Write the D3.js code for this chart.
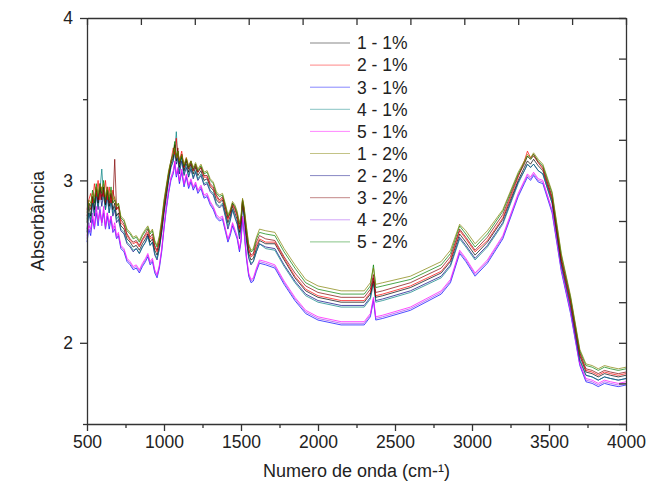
<!DOCTYPE html>
<html>
<head>
<meta charset="utf-8">
<script src="https://cdn.jsdelivr.net/npm/d3@7"></script>
<style>
  body { margin: 0; background: #fff; }
  svg { display: block; font-family: "Liberation Sans", Arial, sans-serif; }
</style>
</head>
<body>
<svg id="chart" width="670" height="488"></svg>
<script>
// wavenumber grid (cm-1) shared by every spectrum, denser where the spectra are noisy
const wavenumbers = [500,512,524,536,548,560,572,584,596,608,620,632,644,656,668,680,692,704,720,740,
  760,780,800,820,840,860,880,895,910,925,940,955,970,985,1000,1015,1030,1045,1060,1070,
  1080,1090,1100,1115,1130,1145,1160,1175,1190,1205,1220,1240,1260,1280,1300,1320,1340,1360,1380,1400,
  1415,1430,1445,1460,1475,1490,1500,1510,1520,1535,1550,1565,1580,1600,1620,
  1660,1720,1780,1850,1920,2000,2150,2300,2340,2360,2375,2420,2600,2800,2860,2920,2960,3020,3100,3200,
  3300,3340,3360,3380,3400,3430,3460,3520,3580,3640,3700,3740,3780,3820,3860,3900,3950,4000];

// absorbance, one array per sample
const s1_1 = [2.74,2.84,2.78,2.90,2.82,2.95,2.86,2.98,2.88,2.96,2.85,2.94,2.84,2.92,2.82,2.86,2.78,2.80,2.72,2.70,
  2.64,2.62,2.59,2.60,2.57,2.61,2.64,2.67,2.62,2.64,2.57,2.54,2.60,2.70,2.82,2.92,3.02,3.10,3.14,3.22,
  3.12,3.18,3.08,3.16,3.06,3.12,3.05,3.10,3.04,3.08,3.03,3.06,3.00,3.01,2.96,2.94,2.88,2.86,2.88,2.80,
  2.74,2.78,2.84,2.80,2.76,2.68,2.74,2.87,2.80,2.66,2.55,2.51,2.52,2.58,2.63,
  2.61,2.61,2.51,2.40,2.32,2.28,2.25,2.25,2.30,2.38,2.28,2.29,2.34,2.43,2.50,2.67,2.62,2.54,2.62,2.76,
  3.00,3.08,3.12,3.10,3.13,3.09,3.06,2.88,2.50,2.25,1.92,1.82,1.81,1.79,1.81,1.80,1.79,1.80];
const s2_1 = [2.82,2.88,2.92,2.86,2.98,2.90,3.00,2.88,2.96,2.90,3.00,2.88,2.96,2.86,2.94,2.88,2.82,2.84,2.74,2.72,
  2.66,2.63,2.61,2.62,2.59,2.63,2.66,2.68,2.64,2.65,2.59,2.56,2.62,2.72,2.84,2.94,3.04,3.12,3.20,3.16,
  3.26,3.14,3.12,3.18,3.08,3.14,3.08,3.12,3.06,3.10,3.05,3.08,3.02,3.02,2.97,2.95,2.90,2.87,2.89,2.82,
  2.76,2.80,2.85,2.82,2.78,2.70,2.75,2.88,2.81,2.68,2.57,2.53,2.54,2.60,2.64,
  2.62,2.62,2.52,2.41,2.33,2.29,2.26,2.26,2.31,2.40,2.29,2.30,2.35,2.44,2.51,2.69,2.64,2.56,2.63,2.77,
  3.02,3.12,3.18,3.14,3.16,3.11,3.07,2.89,2.51,2.25,1.93,1.83,1.82,1.80,1.82,1.81,1.80,1.81];
const s3_1 = [2.62,2.70,2.66,2.76,2.70,2.80,2.72,2.82,2.74,2.80,2.70,2.78,2.70,2.76,2.68,2.70,2.64,2.66,2.58,2.56,
  2.50,2.48,2.45,2.46,2.43,2.47,2.50,2.53,2.48,2.50,2.43,2.40,2.46,2.56,2.70,2.82,2.92,3.00,3.04,3.10,
  3.02,3.06,2.98,3.05,2.96,3.02,2.95,2.99,2.94,2.97,2.92,2.95,2.89,2.90,2.85,2.82,2.77,2.75,2.76,2.68,
  2.62,2.66,2.72,2.68,2.64,2.56,2.62,2.76,2.68,2.52,2.41,2.37,2.38,2.44,2.49,
  2.48,2.46,2.36,2.26,2.18,2.14,2.11,2.11,2.16,2.26,2.14,2.15,2.20,2.30,2.37,2.55,2.50,2.41,2.49,2.64,
  2.90,2.98,3.02,3.00,3.03,2.99,2.98,2.80,2.44,2.18,1.86,1.76,1.75,1.73,1.75,1.74,1.73,1.74];
const s4_1 = [2.70,2.80,2.76,2.88,2.80,2.92,2.84,2.94,3.07,2.90,2.82,2.92,2.80,2.88,2.80,2.84,2.76,2.78,2.70,2.68,
  2.62,2.60,2.57,2.58,2.55,2.59,2.62,2.65,2.60,2.62,2.55,2.52,2.58,2.68,2.80,2.90,3.00,3.08,3.12,3.18,
  3.30,3.12,3.06,3.14,3.04,3.10,3.03,3.08,3.02,3.06,3.01,3.04,2.98,2.99,2.94,2.92,2.86,2.84,2.86,2.78,
  2.72,2.76,2.82,2.78,2.74,2.66,2.72,2.85,2.78,2.64,2.53,2.49,2.50,2.56,2.61,
  2.58,2.57,2.47,2.37,2.29,2.25,2.22,2.22,2.27,2.36,2.25,2.26,2.31,2.40,2.47,2.64,2.59,2.51,2.59,2.73,
  2.98,3.06,3.10,3.08,3.10,3.06,3.04,2.86,2.48,2.23,1.90,1.80,1.79,1.77,1.79,1.78,1.77,1.78];
const s5_1 = [2.66,2.72,2.70,2.78,2.72,2.84,2.76,2.80,2.74,2.84,2.72,2.80,2.74,2.78,2.70,2.74,2.66,2.68,2.60,2.58,
  2.52,2.50,2.47,2.48,2.45,2.49,2.52,2.55,2.50,2.52,2.45,2.42,2.48,2.58,2.72,2.84,2.94,3.02,3.06,3.12,
  3.04,3.08,3.00,3.07,2.98,3.04,2.97,3.01,2.96,2.99,2.94,2.97,2.91,2.92,2.87,2.84,2.79,2.77,2.78,2.70,
  2.64,2.68,2.74,2.70,2.66,2.58,2.64,2.78,2.70,2.54,2.43,2.39,2.40,2.46,2.51,
  2.50,2.48,2.38,2.28,2.20,2.16,2.13,2.13,2.18,2.28,2.16,2.17,2.22,2.32,2.39,2.57,2.52,2.43,2.51,2.66,
  2.92,3.00,3.04,3.02,3.05,3.01,3.00,2.82,2.46,2.20,1.87,1.78,1.77,1.75,1.77,1.76,1.75,1.76];
const s1_2 = [2.80,2.88,2.86,2.92,2.90,2.96,2.92,2.98,2.94,2.98,2.90,2.96,2.90,2.94,2.88,2.90,2.84,2.86,2.78,2.76,
  2.70,2.68,2.65,2.66,2.63,2.67,2.70,2.72,2.68,2.70,2.63,2.60,2.66,2.76,2.88,2.97,3.06,3.12,3.16,3.20,
  3.14,3.18,3.12,3.16,3.10,3.14,3.09,3.12,3.08,3.11,3.07,3.10,3.05,3.06,3.01,2.99,2.93,2.91,2.92,2.85,
  2.79,2.82,2.87,2.85,2.81,2.74,2.78,2.89,2.84,2.72,2.61,2.57,2.58,2.65,2.70,
  2.69,2.68,2.58,2.48,2.39,2.35,2.32,2.32,2.37,2.46,2.36,2.37,2.41,2.50,2.57,2.73,2.69,2.61,2.69,2.82,
  3.05,3.12,3.16,3.14,3.17,3.13,3.10,2.93,2.55,2.29,1.96,1.87,1.86,1.84,1.86,1.85,1.84,1.85];
const s2_2 = [2.68,2.80,2.74,2.86,2.78,2.92,2.82,2.94,2.84,2.92,2.82,2.90,2.80,2.88,2.78,2.82,2.74,2.76,2.69,2.67,
  2.61,2.59,2.56,2.58,2.55,2.59,2.62,2.66,2.60,2.62,2.54,2.51,2.58,2.68,2.80,2.90,3.00,3.08,3.12,3.18,
  3.10,3.14,3.04,3.12,3.03,3.08,3.02,3.07,3.01,3.05,3.00,3.03,2.97,2.98,2.93,2.91,2.85,2.83,2.85,2.77,
  2.70,2.75,2.82,2.77,2.73,2.64,2.71,2.86,2.77,2.63,2.52,2.48,2.50,2.56,2.61,
  2.59,2.58,2.48,2.38,2.30,2.26,2.23,2.23,2.28,2.40,2.26,2.27,2.32,2.41,2.48,2.65,2.60,2.52,2.60,2.74,
  2.99,3.06,3.10,3.08,3.10,3.06,3.04,2.86,2.48,2.22,1.89,1.80,1.79,1.77,1.79,1.78,1.77,1.78];
const s3_2 = [2.78,2.86,2.82,2.90,2.86,2.96,2.88,2.96,2.90,2.94,2.86,2.96,2.86,2.92,2.86,3.13,2.82,2.84,2.76,2.73,
  2.67,2.64,2.62,2.63,2.60,2.64,2.67,2.70,2.65,2.67,2.60,2.57,2.63,2.73,2.85,2.95,3.04,3.11,3.16,3.22,
  3.14,3.20,3.10,3.16,3.08,3.13,3.07,3.11,3.06,3.09,3.05,3.08,3.03,3.03,2.98,2.96,2.91,2.88,2.90,2.83,
  2.77,2.80,2.86,2.83,2.79,2.71,2.76,2.88,2.82,2.69,2.58,2.54,2.55,2.62,2.66,
  2.64,2.63,2.53,2.43,2.35,2.31,2.28,2.28,2.33,2.42,2.31,2.32,2.37,2.46,2.53,2.70,2.65,2.57,2.65,2.79,
  3.03,3.10,3.15,3.13,3.15,3.11,3.08,2.90,2.52,2.27,1.94,1.84,1.83,1.81,1.83,1.82,1.81,1.82];
const s4_2 = [2.64,2.74,2.68,2.80,2.70,2.82,2.74,2.84,2.72,2.82,2.70,2.80,2.72,2.78,2.68,2.72,2.64,2.67,2.59,2.57,
  2.51,2.49,2.46,2.47,2.44,2.48,2.51,2.54,2.49,2.51,2.44,2.41,2.47,2.57,2.71,2.83,2.93,3.01,3.05,3.11,
  3.03,3.07,2.99,3.06,2.97,3.03,2.96,3.00,2.95,2.98,2.93,2.96,2.90,2.91,2.86,2.83,2.78,2.76,2.77,2.69,
  2.63,2.67,2.73,2.69,2.65,2.57,2.63,2.77,2.69,2.53,2.42,2.38,2.39,2.45,2.50,
  2.49,2.47,2.37,2.27,2.19,2.15,2.12,2.12,2.17,2.27,2.15,2.16,2.21,2.31,2.38,2.56,2.51,2.42,2.50,2.65,
  2.91,2.99,3.03,3.01,3.04,3.00,2.99,2.81,2.45,2.19,1.87,1.77,1.76,1.74,1.76,1.75,1.74,1.75];
const s5_2 = [2.76,2.86,2.84,2.94,2.86,2.98,2.90,2.96,2.92,3.00,2.88,2.94,2.88,2.96,2.86,2.88,2.84,2.86,2.77,2.75,
  2.69,2.67,2.64,2.65,2.62,2.66,2.69,2.71,2.67,2.69,2.62,2.59,2.65,2.75,2.87,2.96,3.05,3.12,3.17,3.24,
  3.14,3.18,3.11,3.15,3.09,3.13,3.08,3.12,3.07,3.10,3.06,3.09,3.04,3.05,3.00,2.98,2.92,2.90,2.91,2.84,
  2.78,2.81,2.86,2.84,2.80,2.73,2.77,2.88,2.83,2.71,2.60,2.56,2.57,2.64,2.68,
  2.67,2.66,2.56,2.46,2.37,2.33,2.30,2.30,2.35,2.48,2.34,2.35,2.39,2.48,2.55,2.72,2.67,2.59,2.67,2.81,
  3.04,3.11,3.15,3.13,3.16,3.12,3.09,2.92,2.54,2.28,1.95,1.86,1.85,1.83,1.85,1.84,1.83,1.84];

const seriesNames = ["1 - 1%","2 - 1%","3 - 1%","4 - 1%","5 - 1%","1 - 2%","2 - 2%","3 - 2%","4 - 2%","5 - 2%"];
const seriesValues = [s1_1, s2_1, s3_1, s4_1, s5_1, s1_2, s2_2, s3_2, s4_2, s5_2];
const seriesColors = ["#000000","#ff0000","#0000ff","#008080","#ff00ff","#808000","#000080","#800000","#a040f0","#008000"];

const xTicks = [500,1000,1500,2000,2500,3000,3500,4000];
const yTicks = [2,3,4];

seriesValues.forEach((v, i) => {
  if (v.length !== wavenumbers.length) throw new Error(seriesNames[i] + " has " + v.length + " values");
});

const svg = d3.select("#chart");
const plotLeft = 87, plotRight = 626, plotTop = 18, plotBottom = 424;

const x = d3.scaleLinear().domain([500, 4000]).range([plotLeft, plotRight]);
const y = d3.scaleLinear().domain([1.5, 4]).range([plotBottom, plotTop]);

const axisColor = "#333";
const fontSize = 17.5;

// spectra
const line = d3.line()
  .x((d, i) => x(wavenumbers[i]))
  .y(d => y(d));

// low ones first so the upper band sits on top
const drawOrder = [2, 8, 4, 6, 3, 0, 1, 7, 9, 5];
drawOrder.forEach(k => {
  svg.append("path")
    .attr("d", line(seriesValues[k]))
    .attr("fill", "none")
    .attr("stroke", seriesColors[k])
    .attr("stroke-width", 0.7)
    .attr("stroke-linejoin", "round");
});

// bottom axis: outward ticks, minor every 250
svg.append("g")
  .attr("transform", `translate(0,${plotBottom})`)
  .call(d3.axisBottom(x).tickValues(d3.range(750, 4000, 500)).tickSize(4).tickFormat(""))
  .call(g => g.select(".domain").remove());
svg.append("g")
  .attr("transform", `translate(0,${plotBottom})`)
  .call(d3.axisBottom(x).tickValues(xTicks).tickSize(7).tickSizeOuter(0).tickPadding(5).tickFormat(d3.format("d")));

// top axis: inward ticks, ten divisions
svg.append("g")
  .attr("transform", `translate(0,${plotTop})`)
  .call(d3.axisTop(x).tickValues(d3.range(500, 4001, 350)).tickSize(-7).tickSizeOuter(0).tickFormat(""));

// left axis: outward ticks, minor every 0.5
svg.append("g")
  .attr("transform", `translate(${plotLeft},0)`)
  .call(d3.axisLeft(y).tickValues([1.5, 2.5, 3.5]).tickSize(4).tickFormat(""))
  .call(g => g.select(".domain").remove());
svg.append("g")
  .attr("transform", `translate(${plotLeft},0)`)
  .call(d3.axisLeft(y).tickValues(yTicks).tickSize(7).tickSizeOuter(0).tickPadding(7).tickFormat(d3.format("d")));

// right axis: inward ticks every 0.25
svg.append("g")
  .attr("transform", `translate(${plotRight},0)`)
  .call(d3.axisRight(y).tickValues(d3.range(1.5, 4.001, 0.25)).tickSize(-7).tickSizeOuter(0).tickFormat(""));

svg.selectAll(".domain, .tick line")
  .attr("stroke", axisColor)
  .attr("stroke-width", 1.3);
svg.selectAll(".tick text")
  .attr("fill", "#222")
  .style("font-size", fontSize + "px")
  .style("font-family", "'Liberation Sans', Arial, sans-serif");

// axis titles
svg.append("text")
  .attr("x", (plotLeft + plotRight) / 2)
  .attr("y", 477)
  .attr("text-anchor", "middle")
  .attr("fill", "#222")
  .style("font-size", "18px")
  .text("Numero de onda (cm-¹)");

svg.append("text")
  .attr("transform", `translate(44,${(plotTop + plotBottom) / 2}) rotate(-90)`)
  .attr("text-anchor", "middle")
  .attr("fill", "#222")
  .style("font-size", "18px")
  .text("Absorbância");

// legend
const legend = svg.append("g").attr("transform", "translate(310,43)");
seriesNames.forEach((name, i) => {
  const row = legend.append("g").attr("transform", `translate(0,${i * 22.1})`);
  row.append("line")
    .attr("x1", 0).attr("x2", 40)
    .attr("y1", 0).attr("y2", 0)
    .attr("stroke", seriesColors[i])
    .attr("stroke-opacity", 0.6)
    .attr("stroke-width", 0.8);
  row.append("text")
    .attr("x", 47)
    .attr("y", 0)
    .attr("dy", "0.36em")
    .attr("fill", "#222")
    .style("font-size", fontSize + "px")
    .text(name);
});
</script>
</body>
</html>
